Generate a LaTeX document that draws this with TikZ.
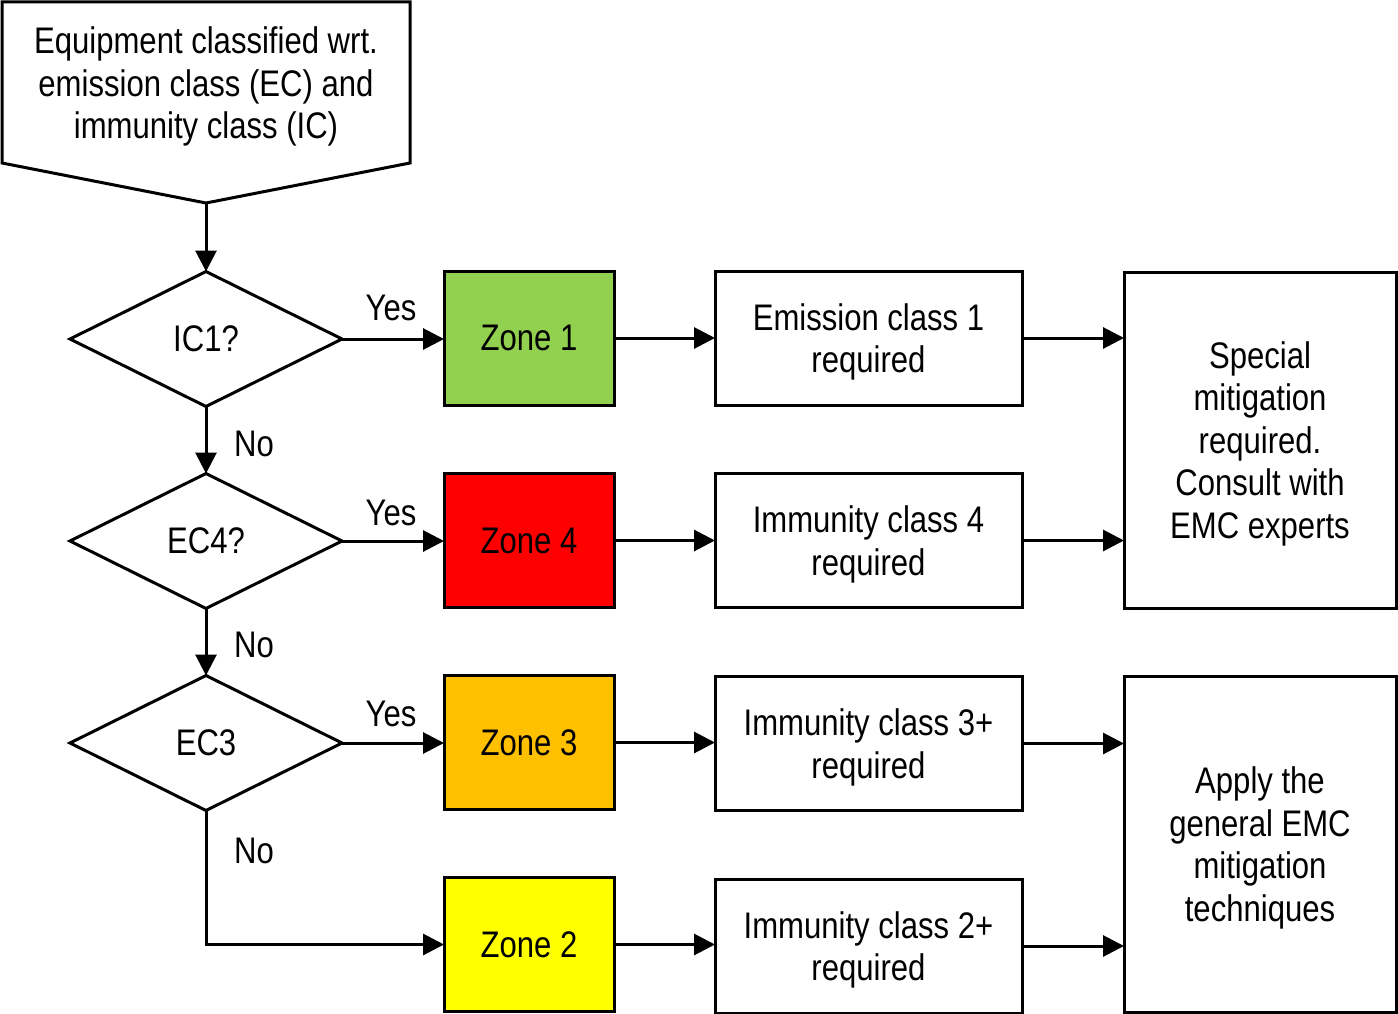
\documentclass[tikz,border=0pt]{standalone}
\usepackage{fontspec}
\setmainfont{Liberation Sans}[FakeStretch=0.84]
\usetikzlibrary{arrows.meta,shapes.geometric}
\begin{document}
\begin{tikzpicture}[x=1pt,y=-1pt,
  every node/.style={font=\fontsize{37}{42.5}\selectfont},
  box/.style={draw,line width=3pt,rectangle,inner sep=0pt,outer sep=0pt,align=center},
  multi/.style={text depth=-2pt},
  dec/.style={draw,line width=3pt,diamond,inner sep=0pt,outer sep=0pt,minimum width=272pt,minimum height=135pt,text depth=-7pt},
  zone/.style={box,minimum width=170pt,minimum height=134pt,text depth=-1pt},
  req/.style={box,multi,minimum width=307pt,minimum height=134pt},
  big/.style={box,multi,minimum width=272pt,minimum height=336pt},
  arr/.style={line width=3pt,-{Triangle[length=21pt,width=21pt]}},
  lbl/.style={inner sep=0pt}]
\useasboundingbox (0,0) rectangle (1398,1014);
% start shape
\draw[line width=3pt,line join=miter] (2,2) -- (410,2) -- (410,163) -- (206,203) -- (2,163) -- cycle;
\node[lbl,align=center,text depth=0pt] (start) at (206,83) {Equipment classified wrt.\\emission class (EC) and\\immunity class (IC)};
\coordinate (s) at (206,203);
% decisions
\node[dec] (d1) at (206,339) {IC1?};
\node[dec] (d2) at (206,541) {EC4?};
\node[dec] (d3) at (206,743) {EC3};
% zones
\node[zone,fill={rgb,255:red,146;green,208;blue,80}] (z1) at (529,338) {Zone 1};
\node[zone,fill={rgb,255:red,255;green,0;blue,0}] (z4) at (529,540.5) {Zone 4};
\node[zone,fill={rgb,255:red,255;green,192;blue,0}] (z3) at (529,742.5) {Zone 3};
\node[zone,fill={rgb,255:red,255;green,255;blue,0}] (z2) at (529,944.5) {Zone 2};
% requirements
\node[req] (m1) at (868.5,338) {Emission class 1\\required};
\node[req] (m2) at (868.5,540.5) {Immunity class 4\\required};
\node[req] (m3) at (868.5,743.5) {Immunity class 3+\\required};
\node[req] (m4) at (868.5,946) {Immunity class 2+\\required};
% right boxes
\node[big] (r1) at (1260,440) {Special\\mitigation\\required.\\Consult with\\EMC experts};
\node[big] (r2) at (1260,844) {Apply the\\general EMC\\mitigation\\techniques};
% connectors
\draw[arr] (s) -- (d1.north);
\draw[arr] (d1.south) -- (d2.north);
\draw[arr] (d2.south) -- (d3.north);
\draw[arr] (d1.east) -- (d1.east -| z1.west);
\draw[arr] (d2.east) -- (d2.east -| z4.west);
\draw[arr] (d3.east) -- (d3.east -| z3.west);
\draw[arr] (d3.south) |- (z2.west);
\draw[arr] (z1.east) -- (z1.east -| m1.west);
\draw[arr] (z4.east) -- (z4.east -| m2.west);
\draw[arr] (z3.east) -- (z3.east -| m3.west);
\draw[arr] (z2.east) -- (z2.east -| m4.west);
\draw[arr] (m1.east) -- (m1.east -| r1.west);
\draw[arr] (m2.east) -- (m2.east -| r1.west);
\draw[arr] (m3.east) -- (m3.east -| r2.west);
\draw[arr] (m4.east) -- (m4.east -| r2.west);
% labels
\node[lbl] (y1) at (391,308) {Yes};
\node[lbl] (y2) at (391,513) {Yes};
\node[lbl] (y3) at (391,714) {Yes};
\node[lbl] (n1) at (254,444) {No};
\node[lbl] (n2) at (254,645) {No};
\node[lbl] (n3) at (254,851) {No};
\end{tikzpicture}
\end{document}
